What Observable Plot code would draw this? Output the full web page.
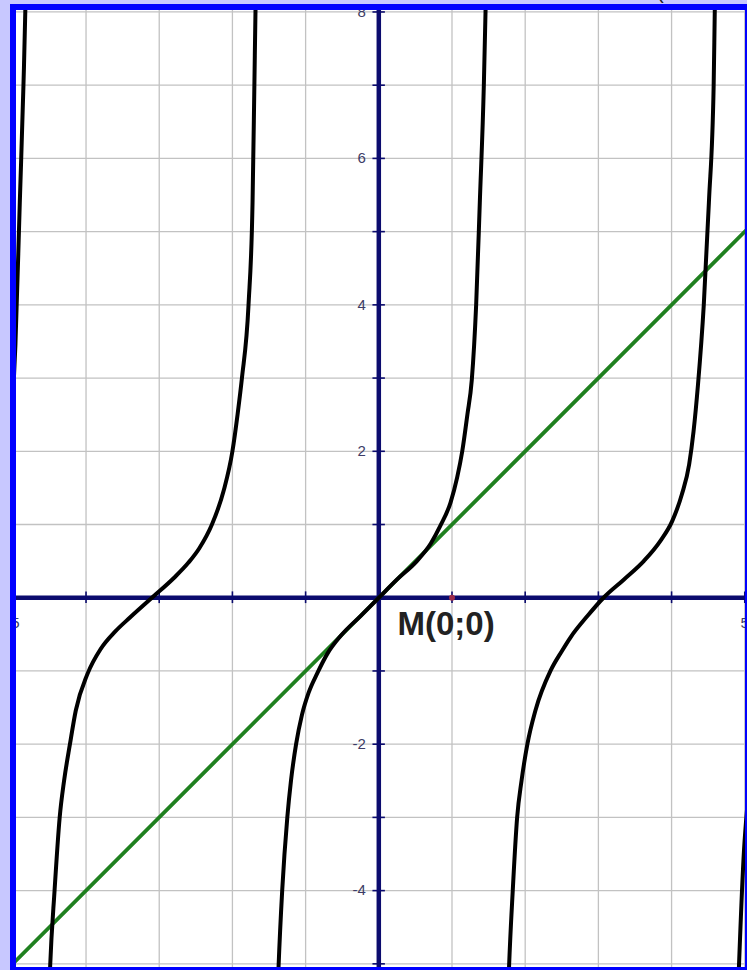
<!DOCTYPE html>
<html>
<head>
<meta charset="utf-8">
<script src="https://cdn.jsdelivr.net/npm/d3@7"></script>
<script src="https://cdn.jsdelivr.net/npm/@observablehq/plot@0.6"></script>
<style>
  html, body { margin: 0; padding: 0; background: #c8c8ff; overflow: hidden; }
  #paren { position: absolute; left: 657px; top: -19px; font: 20px "Liberation Sans", Arial, sans-serif; color: #222; }
  #frame { position: absolute; left: 10px; top: 4px; border: 6px solid #0000ff; width: 729px; height: 957px; background: #fff; }
  #frame svg { display: block; }
</style>
</head>
<body>
<div id="paren">(</div>
<div id="frame"></div>
<script>
// Grid / tick positions
const xGrid = [-4, -3, -2, -1, 0, 1, 2, 3, 4, 5];
const yGrid = [-5, -4, -3, -2, -1, 0, 1, 2, 3, 4, 5, 6, 7, 8];
const yLabels = [8, 6, 4, 2, -2, -4];
const xLabels = [-5, 5];

// Black curve branches (x, y)
const branchA = [[-4.99, 2.9], [-4.965, 3.45], [-4.905, 5.4], [-4.855, 7.0], [-4.83, 8.0], [-4.82, 8.6]];
const branchB = [[-4.51, -5.6], [-4.49, -5.03], [-4.43, -4.0], [-4.36, -3.0], [-4.30, -2.5], [-4.22, -2.0],
  [-4.14, -1.54], [-3.98, -1.04], [-3.80, -0.70], [-3.60, -0.46], [-3.40, -0.27], [-3.10, 0],
  [-2.80, 0.27], [-2.60, 0.48], [-2.45, 0.68], [-2.28, 1.0], [-2.12, 1.46], [-2.00, 2.0], [-1.93, 2.5],
  [-1.87, 3.0], [-1.78, 4.0], [-1.725, 5.4], [-1.70, 7.0], [-1.685, 8.0], [-1.675, 8.6]];
const branchC = [[-1.39, -5.6], [-1.37, -5.05], [-1.32, -4.0], [-1.25, -3.0], [-1.20, -2.5], [-1.13, -2.0],
  [-1.05, -1.6], [-0.96, -1.3], [-0.84, -1.03], [-0.70, -0.76], [-0.52, -0.52], [-0.25, -0.25], [0, 0],
  [0.25, 0.25], [0.52, 0.50], [0.71, 0.74], [0.84, 0.98], [0.98, 1.30], [1.07, 1.64], [1.14, 2.0],
  [1.21, 2.5], [1.27, 2.97], [1.33, 4.0], [1.38, 5.4], [1.435, 7.0], [1.458, 8.0], [1.47, 8.6]];
const branchD = [[1.76, -5.6], [1.78, -5.03], [1.83, -4.0], [1.89, -3.0], [1.95, -2.5], [2.03, -2.0],
  [2.14, -1.54], [2.35, -0.99], [2.50, -0.73], [2.62, -0.54], [2.85, -0.25], [3.07, 0], [3.35, 0.25],
  [3.62, 0.50], [3.85, 0.78], [4.01, 1.05], [4.14, 1.41], [4.24, 1.82], [4.30, 2.27], [4.36, 2.9],
  [4.44, 4.0], [4.51, 5.4], [4.575, 7.0], [4.59, 8.0], [4.60, 8.6]];
const branchE = [[4.90, -5.6], [4.92, -5.05], [4.99, -3.44], [5.03, -2.9]];

// Green line (y = x), endpoints
const lineX = [-5.1, 5.1];
const lineY = [-5.1, 5.1];

// Marked point and its label
const pointM = [{x: 1, y: 0}];
const labelM = "M(0;0)";

const branches = {A: branchA, B: branchB, C: branchC, D: branchD, E: branchE};
const curveData = Object.entries(branches).flatMap(([k, pts]) => pts.map(([x, y]) => ({branch: k, x, y})));
const greenData = lineX.map((x, i) => ({x, y: lineY[i]}));

const navy = "#0b0b6e";
const chart = Plot.plot({
  width: 729,
  height: 957,
  margin: 0,
  x: {domain: [-4.95, 5.01], axis: null},
  y: {domain: [-5.05, 8.02], axis: null},
  style: {background: "#fff", overflow: "hidden", fontFamily: "'Liberation Sans', Arial, sans-serif"},
  marks: [
    Plot.ruleX(xGrid, {x: d => d, stroke: "#c2c2c2", strokeWidth: 1.3}),
    Plot.ruleY(yGrid, {y: d => d, stroke: "#c2c2c2", strokeWidth: 1.3}),
    Plot.ruleY([0], {stroke: navy, strokeWidth: 4.5}),
    Plot.ruleX([0], {stroke: navy, strokeWidth: 4.5}),
    Plot.ruleX(xGrid, {x: d => d, y1: -0.08, y2: 0.08, stroke: navy, strokeWidth: 1.6}),
    Plot.ruleY(yGrid, {y: d => d, x1: -0.08, x2: 0.09, stroke: navy, strokeWidth: 1.6}),
    Plot.text(yLabels, {x: 0, y: d => d, text: d => String(d), dx: -13, textAnchor: "end", fontSize: 15, fill: "#3c3c66"}),
    Plot.text(xLabels, {x: d => d, y: 0, text: d => String(d), dy: 25, textAnchor: "middle", fontSize: 15, fill: "#3c3c66"}),
    Plot.line(greenData, {x: "x", y: "y", stroke: "#1f801f", strokeWidth: 3.8, clip: true}),
    Plot.line(curveData, {x: "x", y: "y", z: "branch", stroke: "#000", strokeWidth: 4, curve: "monotone-x", clip: true}),
    Plot.dot(pointM, {x: "x", y: "y", r: 3, fill: "#9b2a4a"}),
    Plot.text([labelM], {x: 0.255, y: 0, text: d => d, dy: 26.5, textAnchor: "start", fontSize: 33, fontWeight: "bold", fill: "#222"})
  ]
});
document.getElementById("frame").appendChild(chart);
</script>
</body>
</html>
